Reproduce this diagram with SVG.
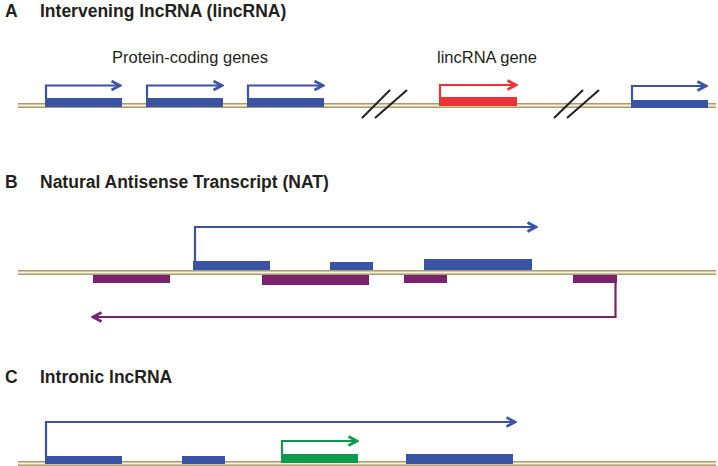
<svg xmlns="http://www.w3.org/2000/svg" width="718" height="466" viewBox="0 0 718 466">
<defs>
<style>
.title{font-family:"Liberation Sans",Arial,sans-serif;font-weight:bold;font-size:17.5px;fill:#231f20}
.lbl{font-family:"Liberation Sans",Arial,sans-serif;font-size:16.5px;fill:#231f20}
.gl{stroke:#a99c6b;stroke-width:1.4;fill:none}
.gfill{fill:#f4f0dc}
.blue{fill:#3a53a4}
.red{fill:#ec3237}
.purple{fill:#7a226e}
.green{fill:#0d9a4a}
.ab{stroke:#3a53a4;stroke-width:2.2;fill:none}
.ar{stroke:#ec3237;stroke-width:2.2;fill:none}
.ap{stroke:#7a226e;stroke-width:2.2;fill:none}
.ag{stroke:#0d9a4a;stroke-width:2.2;fill:none}
.slash{stroke:#231f20;stroke-width:2}
</style>
<marker id="mb" viewBox="0 0 12 12" refX="10" refY="6" markerWidth="12" markerHeight="12" markerUnits="userSpaceOnUse" orient="auto"><path d="M1.5,1.5 L10,6 L1.5,10.5" fill="none" stroke="#3a53a4" stroke-width="2.6"/></marker>
<marker id="mr" viewBox="0 0 12 12" refX="10" refY="6" markerWidth="12" markerHeight="12" markerUnits="userSpaceOnUse" orient="auto"><path d="M1.5,1.5 L10,6 L1.5,10.5" fill="none" stroke="#ec3237" stroke-width="2.6"/></marker>
<marker id="mp" viewBox="0 0 12 12" refX="10" refY="6" markerWidth="12" markerHeight="12" markerUnits="userSpaceOnUse" orient="auto"><path d="M1.5,1.5 L10,6 L1.5,10.5" fill="none" stroke="#7a226e" stroke-width="2.6"/></marker>
<marker id="mg" viewBox="0 0 12 12" refX="10" refY="6" markerWidth="12" markerHeight="12" markerUnits="userSpaceOnUse" orient="auto"><path d="M1.5,1.5 L10,6 L1.5,10.5" fill="none" stroke="#0d9a4a" stroke-width="2.6"/></marker>
</defs>
<rect width="718" height="466" fill="#ffffff"/>

<!-- Panel A -->
<g id="panelA-title">
<text class="title" x="5" y="17">A</text>
<text class="title" x="40" y="17">Intervening lncRNA (lincRNA)</text>
</g>
<g id="labelA-protein"><text class="lbl" x="112" y="63">Protein-coding genes</text></g>
<g id="labelA-linc"><text class="lbl" x="437" y="63">lincRNA gene</text></g>
<g id="genomeA">
<rect class="gfill" x="18" y="104" width="698" height="3"/>
<line class="gl" x1="18" y1="103.8" x2="716" y2="103.8"/>
<line class="gl" x1="18" y1="107.2" x2="716" y2="107.2"/>
</g>
<g id="geneA1"><rect class="blue" x="45" y="98" width="77" height="9"/></g>
<g id="geneA2"><rect class="blue" x="146" y="98" width="77" height="9"/></g>
<g id="geneA3"><rect class="blue" x="247" y="98" width="77" height="9"/></g>
<g id="lincA"><rect class="red" x="439" y="97" width="78" height="9"/></g>
<g id="geneA4"><rect class="blue" x="631" y="100" width="77" height="8"/></g>
<g id="breaks">
<line class="slash" x1="362" y1="118" x2="390" y2="90"/>
<line class="slash" x1="375" y1="118" x2="407" y2="90"/>
<line class="slash" x1="554" y1="118" x2="583" y2="90"/>
<line class="slash" x1="567" y1="118" x2="599" y2="90"/>
</g>

<!-- Panel B -->
<g id="panelB-title">
<text class="title" x="5" y="188">B</text>
<text class="title" x="40" y="188">Natural Antisense Transcript (NAT)</text>
</g>
<g id="genomeB">
<rect class="gfill" x="18" y="271" width="698" height="3"/>
<line class="gl" x1="18" y1="270.8" x2="716" y2="270.8"/>
<line class="gl" x1="18" y1="274.2" x2="716" y2="274.2"/>
</g>
<g id="exonB1"><rect class="blue" x="193" y="261" width="77" height="9"/></g>
<g id="exonB2"><rect class="blue" x="330" y="262" width="43" height="8"/></g>
<g id="exonB3"><rect class="blue" x="424" y="259" width="108" height="11"/></g>
<g id="natB1"><rect class="purple" x="93" y="275" width="77" height="8"/></g>
<g id="natB2"><rect class="purple" x="262" y="275" width="107" height="10"/></g>
<g id="natB3"><rect class="purple" x="404" y="275" width="43" height="8"/></g>
<g id="natB4"><rect class="purple" x="573" y="275" width="44" height="8"/></g>

<!-- Panel C -->
<g id="panelC-title">
<text class="title" x="5" y="383">C</text>
<text class="title" x="40" y="383">Intronic lncRNA</text>
</g>
<g id="genomeC">
<rect class="gfill" x="18" y="462" width="698" height="3"/>
<line class="gl" x1="18" y1="461.8" x2="716" y2="461.8"/>
<line class="gl" x1="18" y1="465.2" x2="716" y2="465.2"/>
</g>
<g id="exonC1"><rect class="blue" x="45" y="456" width="77" height="8"/></g>
<g id="exonC2"><rect class="blue" x="182" y="456" width="43" height="8"/></g>
<g id="intronicC"><rect class="green" x="281" y="454" width="77" height="9"/></g>
<g id="exonC3"><rect class="blue" x="406" y="454" width="107" height="10"/></g>

<g id="connectors">
<polyline class="ab" points="46,98 46,85.5 120,85.5" marker-end="url(#mb)"/>
<polyline class="ab" points="147,98 147,85.5 222,85.5" marker-end="url(#mb)"/>
<polyline class="ab" points="248,98 248,85.5 323,85.5" marker-end="url(#mb)"/>
<polyline class="ar" points="440,97 440,85 516,85" marker-end="url(#mr)"/>
<polyline class="ab" points="632,100 632,86 706,86" marker-end="url(#mb)"/>
<polyline class="ab" points="195,261 195,227 536,227" marker-end="url(#mb)"/>
<polyline class="ap" points="615.5,283 615.5,317 93,317" marker-end="url(#mp)"/>
<polyline class="ab" points="46,456 46,422 515,422" marker-end="url(#mb)"/>
<polyline class="ag" points="282,454 282,441 357,441" marker-end="url(#mg)"/>
</g>
</svg>
